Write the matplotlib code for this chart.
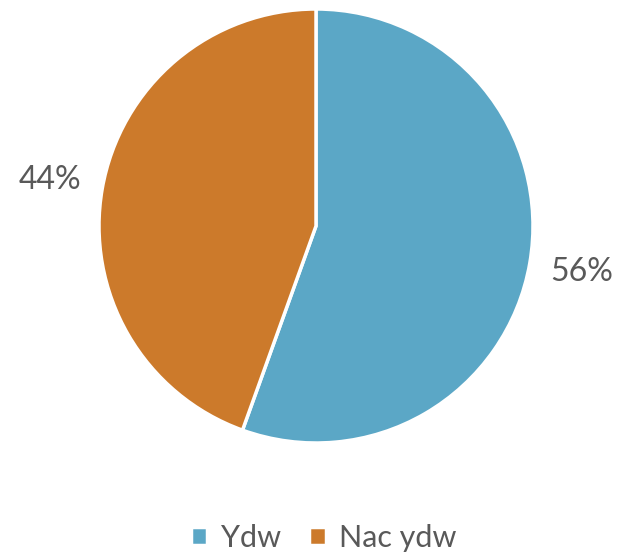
import matplotlib.pyplot as plt

labels = ['Ydw', 'Nac ydw']
values = [55.5, 44.5]
colors = ['#5BA7C6', '#CC7A2B']

plt.rcParams['font.family'] = ['Lato', 'DejaVu Sans']

fig = plt.figure(figsize=(6.2, 5.55), dpi=100)
# pie centre ~ (316, 226) px, radius ~217 px
ax = fig.add_axes([(316 - 217) / 620, (555 - 226 - 217) / 555, 434 / 620, 434 / 555])

wedges, texts, autotexts = ax.pie(
    values, colors=colors, startangle=90, counterclock=False,
    autopct='%.0f%%', pctdistance=1.245, radius=1,
    wedgeprops=dict(edgecolor='white', linewidth=2.5))
for t in autotexts:
    t.set_color('#595959')
    t.set_fontsize(23)
ax.set_xlim(-1, 1)
ax.set_ylim(-1, 1)
ax.set_aspect('equal')

fig.legend(wedges, labels, loc='center', bbox_to_anchor=(0.522, 1 - 538 / 555),
           ncol=2, frameon=False, fontsize=22, labelcolor='#595959',
           handlelength=0.55, handleheight=0.55, handletextpad=0.45, columnspacing=0.9)

plt.savefig('out.png', dpi=100)
